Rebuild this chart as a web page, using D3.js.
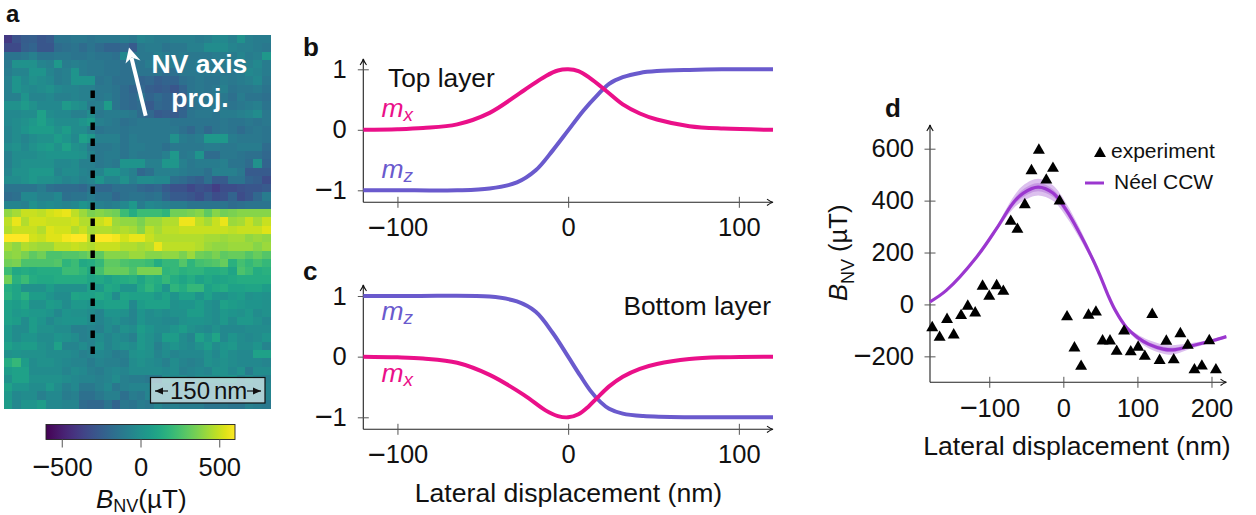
<!DOCTYPE html>
<html><head><meta charset="utf-8">
<script src="https://cdn.jsdelivr.net/npm/d3@7"></script>
<style>
html,body{margin:0;padding:0;background:#fff}
svg{display:block}
text{font-family:"Liberation Sans",Arial,sans-serif;fill:#111}
.tick text{font-family:"Liberation Sans",Arial,sans-serif;font-size:25.5px;fill:#111}
.tick line{stroke:#555;stroke-width:1}
</style></head><body>
<svg id="c" width="1256" height="515"></svg>
<script>
// Panel a: B_NV map, in tens of microtesla, one row per scan line
const fieldMapTens = [
[-40,-30,-25,-24,-28,-26,-14,-14,-12,-12,-14,-12,-12,-12,-10,-12,-6,-8,-10,-10,-8,-8,-8,-10,-8,-4,-4,-8,0,-8,-10,-10],
[-33,-33,-24,-22,-28,-28,-18,-16,-14,-18,-14,-18,-22,-22,-20,-26,-12,-10,-10,-14,-12,-12,-8,-8,-2,-2,-2,-6,-8,-8,-10,-12],
[-14,-14,-12,-8,-14,-14,-12,-12,-14,-14,-12,-14,-14,-16,-4,-14,-12,-12,-8,-10,-12,-10,-12,-12,-12,-10,-10,-10,-6,-10,-8,4],
[-12,0,1,0,-6,-8,4,-10,-8,-10,-12,-12,-14,-14,-16,-16,-14,-10,-10,-10,-10,-12,-12,-10,-12,-12,-10,-12,-10,-8,-4,-10],
[-10,-6,-6,2,2,-6,-10,-8,2,-10,-12,-12,-14,-14,-16,-16,-14,-14,-14,-18,-16,-12,-12,-12,-12,-12,-12,-12,-10,-4,-6,-10],
[-8,2,-4,0,-2,-4,-10,-8,2,2,2,-14,-12,-16,-16,-16,-22,-20,-24,-22,-22,-16,-14,-12,-14,-14,-10,-12,-10,-8,-4,-12],
[-8,2,-2,-4,-2,0,-4,-6,-6,-8,-8,-12,-12,-14,-18,-22,-20,-24,-26,-24,-28,-22,-14,-12,-14,-12,-8,-14,-12,-12,-10,-14],
[-8,-8,2,-6,-6,-4,-8,-8,-6,-8,-8,-12,-10,-14,-18,-20,-14,-22,-18,-22,-22,-24,-14,-14,-14,-12,-12,-16,-10,-14,-14,-16],
[0,0,5,0,-4,-4,-4,5,0,-2,-10,-8,6,-14,-18,-20,-18,-26,-20,-22,-20,-24,-16,-14,-12,-12,-12,-14,-12,-10,-8,-14],
[-4,-4,-2,-2,8,-2,-4,-4,-8,-8,-2,-12,-10,-10,-10,-12,-18,-20,-26,-24,-26,-22,-14,-12,-12,-14,-10,-10,-8,-6,-2,-12],
[-4,-2,0,4,8,2,-2,-2,-2,2,6,-8,-10,-12,-16,-14,-12,-12,-12,-12,-14,-14,-14,-14,-14,-14,-12,-14,-14,-12,-14,-12],
[-6,-2,2,6,6,6,0,6,-2,-2,-8,-14,-12,-12,-14,-12,-12,-12,-12,-12,-12,-16,-20,-14,-20,-14,-12,-14,-18,-14,-12,-14],
[-6,-2,-6,-2,0,0,6,2,-4,8,4,-8,-8,-8,-14,-10,-12,-12,-12,-12,0,-10,-12,-10,4,4,4,-10,-12,-12,-12,-14],
[-2,0,-4,0,4,6,0,8,0,-2,-10,-12,-12,-10,-14,-10,-10,-12,-12,-16,-12,-12,-12,-12,-10,-10,-12,-12,-10,-10,-10,-18],
[-8,-2,-2,-2,0,2,2,2,2,0,-6,-12,-10,-10,-14,-10,-12,-12,-12,-8,4,-12,-10,2,-18,-18,-12,-12,-14,-16,-16,-20],
[-8,-2,0,0,0,0,-4,-4,-2,-8,-8,-12,-10,-12,2,2,2,-8,-8,3,3,-8,-12,-10,-10,-10,-8,-14,-14,-18,0,-22],
[-6,0,0,4,4,4,-6,-2,-2,-6,-8,-6,2,2,-4,-8,-20,-16,-8,-8,-8,-10,-12,-12,-16,-8,-8,-8,-12,-26,-26,-26],
[-2,-2,0,4,0,0,-2,-6,-4,-8,-6,2,-6,-6,0,-8,-2,-2,-4,-4,-16,-18,-22,-24,-16,-26,-26,-14,-14,-22,-24,-32],
[-14,-14,-14,-14,-10,-16,-18,-18,-18,-20,-14,-20,-20,-16,-16,-16,-20,-22,-20,-26,-30,-30,-34,-30,-32,-38,-32,-32,-30,-28,-28,-26],
[-18,-16,-4,-4,-8,-8,-4,-16,-14,-14,-10,-14,-14,-20,-16,-14,-14,-16,-14,-22,-26,-26,-28,-32,-26,-32,-30,-22,-32,-28,-20,-10],
[-6,-6,-8,0,-4,-2,-4,-6,-4,2,-2,-8,-10,-8,-4,4,-10,-4,-6,-8,-10,-10,-14,-14,-14,-14,-14,-18,-16,-14,-14,-14],
[40,44,50,50,48,52,54,56,48,42,36,38,36,34,22,14,22,22,22,18,34,34,36,38,30,38,34,36,38,38,38,38],
[48,56,46,52,52,50,50,50,52,46,46,50,54,42,40,40,36,42,42,46,46,57,57,48,44,50,56,42,44,50,44,50],
[46,50,50,50,46,54,52,52,46,50,44,46,46,44,46,44,38,48,44,48,48,50,50,50,50,50,50,48,50,50,50,54],
[60,60,60,52,50,54,54,58,60,60,48,60,60,58,52,56,56,50,46,46,46,46,46,46,44,44,42,44,44,40,42,40],
[44,40,46,44,42,42,48,48,50,48,46,50,50,50,46,46,44,46,56,48,48,48,48,46,42,40,40,42,42,42,38,42],
[38,40,36,30,34,26,26,28,28,30,34,30,38,38,38,42,42,38,38,40,40,36,42,34,32,36,30,32,32,28,32,28],
[34,36,26,26,26,26,28,18,22,12,14,20,30,30,26,24,24,22,14,20,20,28,18,24,26,28,32,16,24,20,24,20],
[22,12,14,12,14,14,14,22,22,18,12,24,32,32,32,26,36,36,36,18,20,16,18,18,14,14,16,10,26,22,14,16],
[34,16,22,14,12,12,14,14,14,14,10,12,8,12,14,16,10,16,14,20,14,10,14,8,12,8,10,12,14,14,14,14],
[14,10,0,0,0,6,0,0,0,0,8,4,12,10,2,2,12,18,12,2,18,14,20,20,8,12,14,8,8,10,10,6],
[16,10,16,6,6,2,-2,-2,10,8,8,12,8,-2,10,8,8,8,4,8,2,8,8,2,8,2,0,4,6,0,2,0],
[8,6,10,0,0,6,4,-2,4,4,2,6,8,8,8,-4,6,8,8,8,0,2,2,6,0,-2,8,6,4,2,2,0],
[8,4,6,4,4,2,-4,2,0,0,-2,-6,2,2,0,-6,2,-2,0,-2,0,0,6,6,0,-2,4,2,0,4,-2,0],
[8,6,-2,6,2,-4,0,2,2,2,-2,-6,-2,0,-4,-6,2,-2,-2,-4,-4,0,2,2,0,-2,4,-2,4,4,0,-4],
[4,-2,-2,6,0,0,-2,-2,-8,-8,-6,-8,-2,-6,0,-2,6,2,-2,-2,2,6,0,-2,-4,0,-4,-4,-4,-2,-2,-2],
[4,-2,2,2,-2,-2,2,0,-2,-8,-6,-2,-6,-2,-4,-8,4,0,-4,6,6,-2,-6,8,2,10,-4,2,-2,-4,-2,2],
[8,4,6,6,0,-2,8,-6,-6,-2,-6,0,-6,-2,0,-2,4,0,-8,-2,2,-2,-4,0,6,-2,2,4,-2,-2,2,-6],
[0,2,0,0,0,-2,-2,-2,-4,-8,-6,-4,-6,-10,-8,0,2,0,-6,-2,-6,-4,-4,-4,0,-4,2,-2,-4,-4,8,8],
[14,20,6,-2,0,0,-2,-4,-6,-6,-10,-6,-8,-8,-10,-2,0,-2,-4,-8,-2,-6,-8,-6,0,-2,0,-2,-4,-4,-4,-6],
[6,8,8,-2,-2,-2,-2,-6,-2,-4,-8,-10,-6,-4,-6,-2,-2,-2,-2,-4,-2,-8,-6,-4,-6,0,0,-4,0,-10,-2,-2],
[0,8,8,0,0,0,0,-2,-4,-6,-6,-8,-6,-2,-8,-10,-10,-12,-12,-2,-4,-2,-6,-2,-2,-2,0,2,-6,-2,-6,-8],
[8,2,2,-2,-2,4,-2,-8,-4,-12,-12,-8,-4,-12,-8,-6,-6,-6,-6,-6,-6,-6,-6,-6,-6,-6,-6,-6,-6,-6,-6,-6],
[4,-4,-2,-2,-8,-4,-4,-10,-8,-16,-16,-12,-8,-8,-16,-10,-12,-6,-6,-6,-6,-6,-6,-6,-6,-6,-6,-6,-6,-6,-6,-6],
[6,-4,2,2,6,-4,-4,-6,-6,-18,-20,-20,-14,-22,-12,-14,-10,-12,-6,-10,-8,-10,-10,-10,-14,-14,-12,-14,-14,-8,-10,-12]
];
const colorbarTicks = [-500,0,500];

// Panel b: top layer
const topMxX = [-120,-100,-85,-65,-46,-26,-13,-6,0,6,13,22,32,42,52,71,91,120];
const topMxY = [0,.01,.03,.09,.28,.65,.89,.98,1,.97,.85,.65,.42,.27,.17,.06,.02,0];
const topMzX = [-120,-90,-65,-46,-30,-19,-9,0,9,17,24,32,42,52,71,90,120];
const topMzY = [-1,-1,-1,-.97,-.87,-.67,-.34,-.01,.32,.57,.76,.87,.94,.97,.99,1,1];

// Panel c: bottom layer
const botMzX = [-120,-90,-46,-30,-19,-9,0,7,13,19,24,32,44,71,90,120];
const botMzY = [1,1,.99,.91,.74,.39,0,-.31,-.56,-.75,-.86,-.94,-.98,-1,-1,-1];
const botMxX = [-120,-100,-85,-65,-46,-26,-13,-6,0,6,12,17,24,32,42,52,71,91,120];
const botMxY = [0,-.01,-.03,-.1,-.3,-.63,-.89,-.98,-1,-.95,-.82,-.68,-.49,-.33,-.2,-.12,-.04,-.01,0];

const profileTicksX = [-100,0,100];
const profileTicksY = [-1,0,1];

// Panel d
const expX = [-177,-167,-157,-148,-138,-129,-119,-109,-100,-90,-81,-71,-62,-52,-43,-33,-23,-14,-5,5,15,24,34,44,53,63,72,82,91,101,110,120,130,139,149,158,168,177,187,197,206];
const expY = [-84,-121,-52,-112,-37,-1,-27,76,37,78,56,326,295,390,521,600,485,530,404,-42,-162,-233,-36,-24,-135,-135,-175,-97,-177,-159,-194,-33,-210,-136,-208,-107,-152,-246,-232,-134,-246];
const neelX = [-180,-158,-117,-90,-68,-54,-34,-14,4,22,40,50,60,70,85,100,115,135,148,175,202,220];
const neelY = [10,54,183,293,390,429,452,429,363,274,172,108,38,-22,-88,-127,-153,-172,-175,-158,-139,-124];
const neelHalfWide = [3,4,6,10,22,30,32,30,26,20,12,8,6,6,8,12,16,18,18,10,6,5];
const neelHalfNarrow = [1,2,3,5,11,15,16,15,13,10,6,4,3,3,4,6,8,9,9,5,3,2];
const neelTicksX = [-100,0,100,200];
const neelTicksY = [-200,0,200,400,600];

const svg = d3.select('#c');
const PINK='#ea1089', SLATE='#6a5acd', ORCHID='#9b37cf';
const smooth = d3.curveCatmullRom.alpha(.5);
const TICK_SIZE = 25.5;

function label(t,x,y,o={}){
  return svg.append('text').attr('x',x).attr('y',y).attr('font-size',o.size||26.3)
    .attr('font-weight',o.weight||null).attr('fill',o.fill||'#111')
    .attr('text-anchor',o.anchor||'start').style('fill',o.fill||'#111').text(t);
}
function arrowH(x,y){svg.append('path').attr('d',`M${x-6},${y-3.2}Q${x-2.5},${y-.6} ${x},${y}Q${x-2.5},${y+.6} ${x-6},${y+3.2}`).attr('fill','none').attr('stroke','#111').attr('stroke-width',1.1);}
function arrowV(x,y){svg.append('path').attr('d',`M${x-3.2},${y+6}Q${x-.6},${y+2.5} ${x},${y}Q${x+.6},${y+2.5} ${x+3.2},${y+6}`).attr('fill','none').attr('stroke','#111').attr('stroke-width',1.1);}
// long thin minus sign, as in the reference tick labels
function longMinus(g){
  g.selectAll('.tick text').each(function(d){
    if(d>=0) return;
    const t=d3.select(this), digits=String(-d);
    const base=parseFloat(t.attr('dy'))*TICK_SIZE;
    t.text(null).attr('dy',null);
    t.append('tspan').style('font-size','31px').attr('dy',base+1.2).text('\u2212');
    t.append('tspan').attr('dy',-1.2).text(digits);
  });
}

// Panel a
const cols = d3.range(32), rows = d3.range(45);
const hx = d3.scaleBand().domain(cols).range([4,270]);
const hy = d3.scaleBand().domain(rows).range([35,408]);
const color = d3.scaleSequential(d3.interpolateViridis).domain([-600,600]);
svg.append('g').attr('shape-rendering','crispEdges').selectAll('g').data(fieldMapTens).join('g')
  .each(function(row,r){
    d3.select(this).selectAll('rect').data(row).join('rect')
      .attr('x',(d,c)=>hx(c)).attr('y',hy(r)).attr('width',hx.bandwidth()+.5).attr('height',hy.bandwidth()+.5)
      .attr('fill',d=>color(d*10));
  });
svg.append('line').attr('x1',92.7).attr('x2',92.7).attr('y1',90.6).attr('y2',354)
  .attr('stroke','#000').attr('stroke-width',4.4).attr('stroke-dasharray','7.4 8.6');
// NV arrow
svg.append('line').attr('x1',145.7).attr('y1',115.7).attr('x2',131.5).attr('y2',58).attr('stroke','#fff').attr('stroke-width',4);
svg.append('path').attr('d','M129,47.5 L140.5,60.5 L131.8,57.5 L125.5,63.5 Z').attr('fill','#fff');
label('NV axis',199.5,73,{size:26.5,weight:'bold',fill:'#fff',anchor:'middle'});
label('proj.',200,107,{size:26.5,weight:'bold',fill:'#fff',anchor:'middle'});
// scale bar
svg.append('rect').attr('x',150.5).attr('y',377.5).attr('width',114.5).attr('height',25.5)
  .attr('fill','#fff').attr('fill-opacity',.62).attr('stroke','#111').attr('stroke-width',1.2);
label('150',170,399,{size:24});
label('nm',214,399,{size:24});
[[168,155],[247,261]].forEach(([a,b])=>{
  svg.append('line').attr('x1',a).attr('x2',b).attr('y1',391).attr('y2',391).attr('stroke','#111').attr('stroke-width',1.2);
  const s=b>a?1:-1;
  svg.append('path').attr('d',`M${b},391 L${b-s*8},387.5 L${b-s*8},394.5 Z`).attr('fill','#111');
});
// colorbar
const cbx = d3.scaleLinear().domain([-600,600]).range([46,235]);
const grad = svg.append('defs').append('linearGradient').attr('id','vir');
d3.range(0,1.001,.05).forEach(t=>grad.append('stop').attr('offset',t).attr('stop-color',d3.interpolateViridis(t)));
svg.append('rect').attr('x',46).attr('y',424.5).attr('width',189).attr('height',15).attr('fill','url(#vir)').attr('stroke','#222').attr('stroke-width',.9);
const cbAxis = svg.append('g').attr('transform','translate(0,439.5)')
  .call(d3.axisBottom(cbx).tickValues(colorbarTicks).tickSize(8).tickPadding(10));
cbAxis.select('.domain').remove();
cbAxis.call(longMinus);
function subLabel(parent,x,y,main,sub,rest,o={}){
  const t=parent.append('text').attr('x',x).attr('y',y).attr('font-size',o.size||25.5).attr('text-anchor',o.anchor||'start')
    .attr('transform',o.transform||null).style('fill',o.fill||'#111');
  t.append('tspan').attr('font-style','italic').text(main);
  t.append('tspan').attr('dy',o.dy||5).attr('font-size',o.subSize||18).attr('font-style',o.subItalic?'italic':null).text(sub);
  if(rest) t.append('tspan').attr('dy',-(o.dy||5)).text(rest);
  return t;
}
subLabel(svg,96,507.5,'B','NV','(\u00b5T)',{size:26,dy:4.5});

// Panels b and c
function profile(y0,top,bottom,series){
  const x=d3.scaleLinear().domain([-120,120]).range([363.3,773]);
  const y=d3.scaleLinear().domain([-1,1]).range([y0[1],y0[0]]);
  const ax=svg.append('g').attr('transform',`translate(0,${bottom})`)
    .call(d3.axisBottom(x).tickValues(profileTicksX).tickSize(5.5).tickPadding(10.5));
  ax.selectAll('.tick line').attr('y1',-5.5);
  ax.select('.domain').attr('d',`M363.3,0H772`).attr('stroke','#222').attr('stroke-width',1.1);
  ax.call(longMinus);
  const ay=svg.append('g').attr('transform','translate(363.3,0)')
    .call(d3.axisLeft(y).tickValues(profileTicksY).tickSize(5.5).tickPadding(11).tickFormat(d3.format('d')));
  ay.selectAll('.tick line').attr('x1',5.5);
  ay.select('.domain').attr('d',`M0,${bottom}V${top}`).attr('stroke','#222').attr('stroke-width',1.1);
  ay.call(longMinus);
  arrowH(773,bottom); arrowV(363.3,top);
  const line=d3.line().curve(smooth);
  series.forEach(s=>{
    svg.append('path').attr('d',line(s.x.map((v,i)=>[x(v),y(s.y[i])]))).attr('fill','none').attr('stroke',s.c).attr('stroke-width',4);
  });
}
profile([69.3,190.3],59,202.3,[{x:topMzX,y:topMzY,c:SLATE},{x:topMxX,y:topMxY,c:PINK}]);
profile([296,417.3],285,429.3,[{x:botMzX,y:botMzY,c:SLATE},{x:botMxX,y:botMxY,c:PINK}]);
function mLabel(x,y,sub,c){subLabel(svg,x,y,'m',sub,null,{size:26.5,subSize:19,subItalic:true,fill:c,dy:4});}
mLabel(381.5,116.7,'x',PINK); mLabel(381.5,177.7,'z',SLATE);
mLabel(381.5,320,'z',SLATE); mLabel(381.5,381.7,'x',PINK);
label('Top layer',388,87);
label('Bottom layer',771,315,{anchor:'end'});
label('Lateral displacement (nm)',568.5,502,{size:26.6,anchor:'middle'});

// Panel d
const dx=d3.scaleLinear().domain([-180,220]).range([930,1226.3]);
const dy=d3.scaleLinear().domain([-300,600]).range([382.3,148.7]);
const dax=svg.append('g').attr('transform','translate(0,382.3)')
  .call(d3.axisBottom(dx).tickValues(neelTicksX).tickSize(5.5).tickPadding(11));
dax.selectAll('.tick line').attr('y1',-5.5);
dax.select('.domain').attr('d','M930,0H1226').attr('stroke','#222').attr('stroke-width',1.1);
dax.call(longMinus);
const day=svg.append('g').attr('transform','translate(930,0)')
  .call(d3.axisLeft(dy).tickValues(neelTicksY).tickSize(5.5).tickPadding(10.5));
day.selectAll('.tick line').attr('x1',5.5);
day.select('.domain').attr('d','M0,382.3V125').attr('stroke','#222').attr('stroke-width',1.1);
day.call(longMinus);
arrowH(1226.5,382.3); arrowV(930,125);
const area=d3.area().curve(smooth);
[[neelHalfWide,'#dcc0ee'],[neelHalfNarrow,'#c79ae3']].forEach(([h,c])=>{
  svg.append('path').attr('d',area.x((d,i)=>dx(neelX[i])).y0((d,i)=>dy(neelY[i]-h[i])).y1((d,i)=>dy(neelY[i]+h[i]))(neelX)).attr('fill',c);
});
svg.append('path').attr('d',d3.line().curve(smooth)(neelX.map((v,i)=>[dx(v),dy(neelY[i])]))).attr('fill','none').attr('stroke',ORCHID).attr('stroke-width',3.2);
const tri=d3.symbol().type(d3.symbolTriangle).size(62);
svg.append('g').selectAll('path').data(expX).join('path')
  .attr('d',tri).attr('transform',(d,i)=>`translate(${dx(d)},${dy(expY[i])+1.5})`).attr('fill','#000');
svg.append('path').attr('d',tri).attr('transform','translate(1100,153.5)').attr('fill','#000');
label('experiment',1111,158,{size:21});
svg.append('line').attr('x1',1085).attr('x2',1104).attr('y1',183).attr('y2',183).attr('stroke',ORCHID).attr('stroke-width',3);
label('N\u00e9el CCW',1114,189,{size:21});
subLabel(svg,0,0,'B','NV',' (\u00b5T)',{size:25.5,dy:6.5,transform:'translate(847,301) rotate(-90)'});
label('Lateral displacement (nm)',1077,455,{size:26.6,anchor:'middle'});

// Panel letters
[['a',6,22,24],['b',303,56,26],['c',303,280,26],['d',885,117,26]].forEach(([t,x,y,s])=>label(t,x,y,{size:s,weight:'bold'}));
</script>
</body></html>
